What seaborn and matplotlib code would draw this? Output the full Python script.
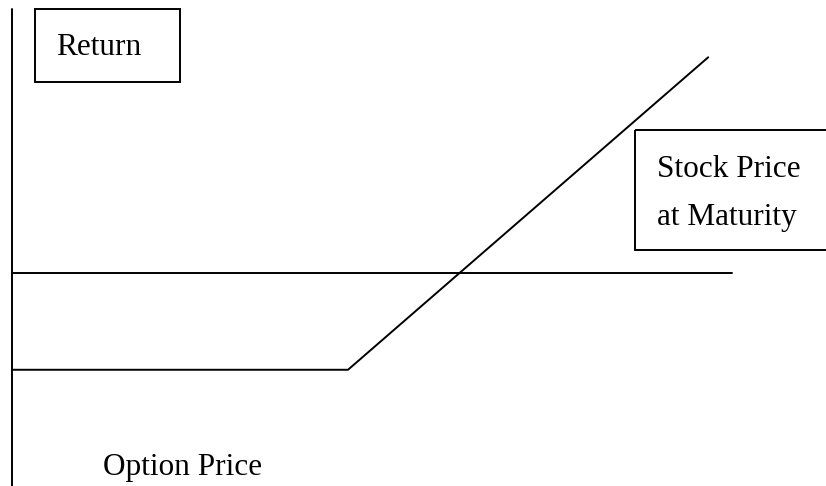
import matplotlib
matplotlib.use("Agg")
import matplotlib.pyplot as plt
import seaborn as sns
import pandas as pd
from matplotlib.patches import Rectangle

# payoff of a long call (arbitrary units)
stock_price = [0, 50, 103.6]
option_return = [-14.4, -14.4, 32.1]
zero_x = [0, 107.1]
zero_y = [0, 0]
axis_top = 39.3

labels = ["Return", "Stock Price\nat Maturity", "Option Price"]

sns.set_style("white")
plt.rcParams["font.family"] = ["Liberation Serif", "DejaVu Serif"]
plt.rcParams["text.color"] = "black"

fig = plt.figure(figsize=(8.26, 4.86), dpi=100)
ax = fig.add_axes([0, 0, 1, 1])

payoff = pd.DataFrame({"price": stock_price, "ret": option_return})
sns.lineplot(data=payoff, x="price", y="ret", color="black", lw=1.4, ax=ax, sort=False)
sns.lineplot(x=zero_x, y=zero_y, color="black", lw=1.4, ax=ax)
ax.plot([0, 0], [axis_top, -40], color="black", lw=1.4)

ax.set_xlim(-12 / 6.72, 814 / 6.72)
ax.set_ylim(-213 / 6.72, 273 / 6.72)
ax.axis("off")

# overlay in pixel coordinates for the label boxes
ov = fig.add_axes([0, 0, 1, 1])
ov.set_xlim(0, 826)
ov.set_ylim(486, 0)
ov.axis("off")
ov.patch.set_alpha(0)

ov.add_patch(Rectangle((35, 9), 145, 73, fill=False, ec="black", lw=1.4))
ov.text(56, 55, labels[0], fontsize=22.5, va="baseline", ha="left", color="black")

ov.add_patch(Rectangle((635, 130), 220, 120, fill=False, ec="black", lw=1.4))
ov.text(657, 177, "Stock Price", fontsize=22.5, va="baseline", ha="left", color="black")
ov.text(657, 225, "at Maturity", fontsize=22.5, va="baseline", ha="left", color="black")

ov.text(103, 475, labels[2], fontsize=22.5, va="baseline", ha="left", color="black")

fig.savefig("out.png", dpi=100)
